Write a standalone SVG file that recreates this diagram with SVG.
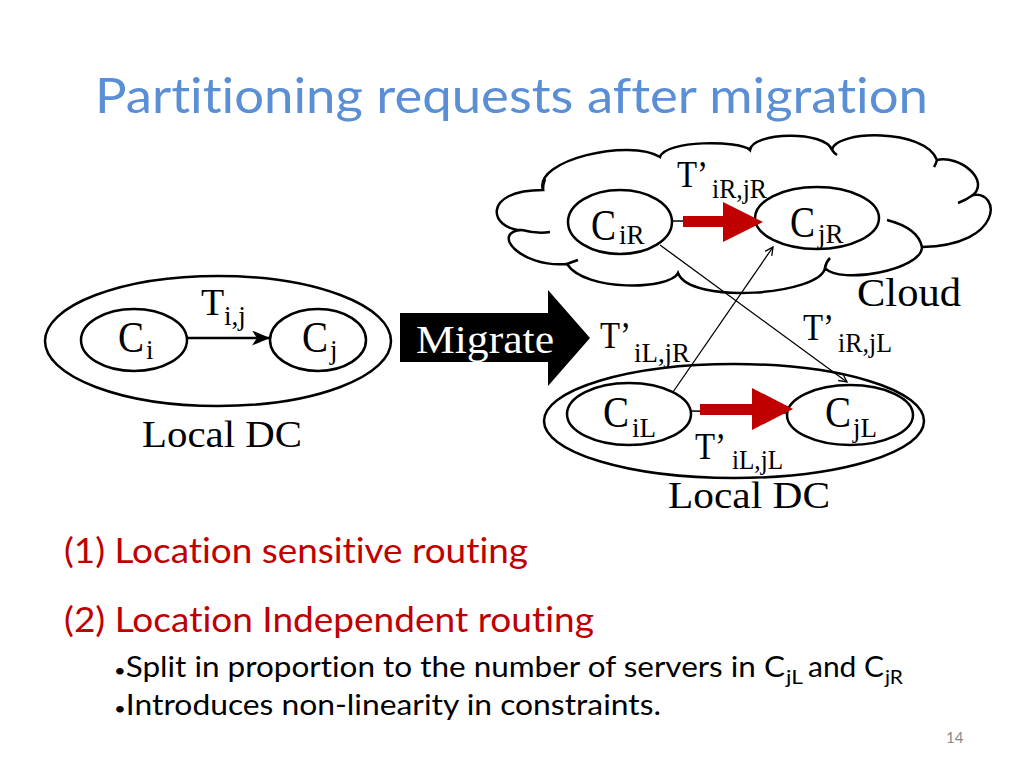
<svg xmlns="http://www.w3.org/2000/svg" width="1024" height="768" viewBox="0 0 1024 768">
<style>
.ser{font-family:"Liberation Serif","DejaVu Serif",serif;fill:#000}
.big{font-size:44px}
.t{font-size:38px}
.sub{font-size:27px}
.sans{font-family:Lato,"Open Sans","Liberation Sans",sans-serif;font-variant-ligatures:none;font-feature-settings:"liga" 0,"clig" 0}
.ell{fill:#fff;stroke:#000;stroke-width:2.5}
.thin{stroke:#000;stroke-width:1.3;fill:none}
.red{fill:#C00000}
.bul{font-size:18px}
</style>
<defs>
<marker id="ah" markerUnits="userSpaceOnUse" markerWidth="18" markerHeight="15" viewBox="0 0 18 15" refX="17" refY="7.5" orient="auto">
<path d="M0,0 L18,7.5 L0,15 L5,7.5 Z" fill="#000"/>
</marker>
<marker id="ahv" markerUnits="userSpaceOnUse" markerWidth="10" markerHeight="10" viewBox="0 0 10 10" refX="9" refY="5" orient="auto">
<path d="M1,1 L9,5 L1,9" fill="none" stroke="#000" stroke-width="1.3"/>
</marker>
</defs>
<rect width="1024" height="768" fill="#fff"/>

<text x="95" y="113" class="sans" font-size="48" fill="#5A8FD6" textLength="833" lengthAdjust="spacingAndGlyphs">Partitioning requests after migration</text>

<!-- left local DC -->
<g id="localdc-left">
<ellipse cx="218" cy="341" rx="173" ry="65" class="ell"/>
<text x="142" y="447" class="ser t" textLength="160" lengthAdjust="spacingAndGlyphs">Local DC</text>
</g>
<g id="node-ci">
<ellipse cx="134" cy="340" rx="53" ry="31" class="ell"/>
<text x="118" y="352" class="ser big" textLength="26" lengthAdjust="spacingAndGlyphs">C</text><text x="146" y="359" class="ser sub">i</text>
</g>
<g id="node-cj">
<ellipse cx="318" cy="340" rx="48" ry="31" class="ell"/>
<text x="302" y="352" class="ser big" textLength="26" lengthAdjust="spacingAndGlyphs">C</text><text x="330" y="359" class="ser sub">j</text>
</g>

<!-- migrate arrow -->
<g id="migrate">
<path d="M400,313 L548,313 L548,290 L590,338 L548,386 L548,362 L400,362 Z" fill="#000"/>
<text x="416" y="353" class="ser" font-size="40" style="fill:#fff" textLength="138" lengthAdjust="spacingAndGlyphs">Migrate</text>
</g>

<!-- cloud -->
<g id="cloud">
<path d="M543,190 C533,160 630,138 660,157 C665,140 740,140 750,150 C752,132 825,130 832,150 C835,130 925,128 937,160 C960,155 990,180 973,195 C1000,190 1005,245 922,247 C922,270 840,285 825,268 C820,295 690,305 678,273 C670,290 585,292 567,264 C520,268 490,232 522,230 C490,230 480,190 543,190 Z" fill="#fff" stroke="#000" stroke-width="2.5"/>
<path d="M522,230 Q537,234 550,232 M567,264 Q572,262 578,260 M825,268 Q826,262 830,258 M922,247 Q918,228 887,220 M973,195 Q966,200 958,203 M937,160 Q936,164 934,167 M832,150 Q834,153 837,155 M543,190 Q543,184 545,179" fill="none" stroke="#000" stroke-width="2.5"/>
<text x="857" y="306" class="ser" font-size="40" textLength="104" lengthAdjust="spacingAndGlyphs">Cloud</text>
</g>
<g id="node-cir">
<ellipse cx="620" cy="222" rx="52" ry="32" class="ell"/>
<text x="591" y="240" class="ser big" textLength="25" lengthAdjust="spacingAndGlyphs">C</text><text x="619" y="244" class="ser sub">iR</text>
</g>
<g id="node-cjr">
<ellipse cx="817" cy="218" rx="62" ry="31" class="ell"/>
<text x="790" y="237" class="ser big" textLength="25" lengthAdjust="spacingAndGlyphs">C</text><text x="818" y="243" class="ser sub">jR</text>
</g>

<!-- right local DC -->
<g id="localdc-right">
<ellipse cx="734" cy="421" rx="190" ry="57" class="ell"/>
<text x="668" y="508" class="ser t" textLength="162" lengthAdjust="spacingAndGlyphs">Local DC</text>
</g>
<g id="node-cil">
<ellipse cx="629" cy="414" rx="62" ry="31" class="ell"/>
<text x="603" y="427" class="ser big" textLength="26" lengthAdjust="spacingAndGlyphs">C</text><text x="632" y="437" class="ser sub">iL</text>
</g>
<g id="node-cjl">
<ellipse cx="850" cy="415" rx="63" ry="30" class="ell"/>
<text x="825" y="427" class="ser big" textLength="26" lengthAdjust="spacingAndGlyphs">C</text><text x="853" y="437" class="ser sub">jL</text>
</g>

<!-- connectors -->
<g id="connectors">
<line x1="187" y1="338" x2="269" y2="338" stroke="#000" stroke-width="2.5" marker-end="url(#ah)"/>
<line x1="660" y1="245" x2="847" y2="382" class="thin" marker-end="url(#ahv)"/>
<line x1="673" y1="392" x2="773" y2="247" class="thin" marker-end="url(#ahv)"/>
<line x1="672" y1="221" x2="758" y2="221" stroke="#000" stroke-width="1.5"/>
<path class="red" d="M683,216 L723,216 L723,202 L763,222 L723,242 L723,227 L683,227 Z"/>
<line x1="691" y1="411" x2="788" y2="413" stroke="#000" stroke-width="1.5"/>
<path class="red" d="M700,404 L752,404 L752,388 L793,409 L752,430 L752,415 L700,415 Z"/>
</g>

<!-- connector labels -->
<g id="labels">
<text x="201" y="315" class="ser t">T</text><text x="224" y="325" class="ser sub">i,j</text>
<text x="677" y="187" class="ser t" textLength="31" lengthAdjust="spacingAndGlyphs">T’</text><text x="712" y="198" class="ser sub" textLength="55" lengthAdjust="spacingAndGlyphs">iR,jR</text>
<text x="600" y="348" class="ser t" textLength="31" lengthAdjust="spacingAndGlyphs">T’</text><text x="634" y="362" class="ser sub" textLength="56" lengthAdjust="spacingAndGlyphs">iL,jR</text>
<text x="803" y="340" class="ser t" textLength="31" lengthAdjust="spacingAndGlyphs">T’</text><text x="838" y="352" class="ser sub" textLength="54" lengthAdjust="spacingAndGlyphs">iR,jL</text>
<text x="695" y="459" class="ser t" textLength="31" lengthAdjust="spacingAndGlyphs">T’</text><text x="732" y="469" class="ser sub" textLength="51" lengthAdjust="spacingAndGlyphs">iL,jL</text>
</g>

<!-- bottom text -->
<text x="64" y="563" class="sans" font-size="34" fill="#C00000" textLength="464" lengthAdjust="spacingAndGlyphs">(1) Location sensitive routing</text>
<text x="64" y="632" class="sans" font-size="34" fill="#C00000" textLength="530" lengthAdjust="spacingAndGlyphs">(2) Location Independent routing</text>
<text x="114" y="677" class="sans" font-size="28" fill="#000" textLength="671" lengthAdjust="spacingAndGlyphs"><tspan class="bul">•</tspan>Split in proportion to the number of servers in C</text>
<text x="786" y="684" class="sans" font-size="19" fill="#000" textLength="17" lengthAdjust="spacingAndGlyphs">jL</text>
<text x="808" y="677" class="sans" font-size="28" fill="#000" textLength="76" lengthAdjust="spacingAndGlyphs">and C</text>
<text x="885" y="684" class="sans" font-size="19" fill="#000" textLength="18" lengthAdjust="spacingAndGlyphs">jR</text>
<text x="114" y="715" class="sans" font-size="28" fill="#000" textLength="547" lengthAdjust="spacingAndGlyphs"><tspan class="bul">•</tspan>Introduces non-linearity in constraints.</text>
<text x="946" y="743" class="sans" font-size="15" fill="#898989">14</text>
</svg>
